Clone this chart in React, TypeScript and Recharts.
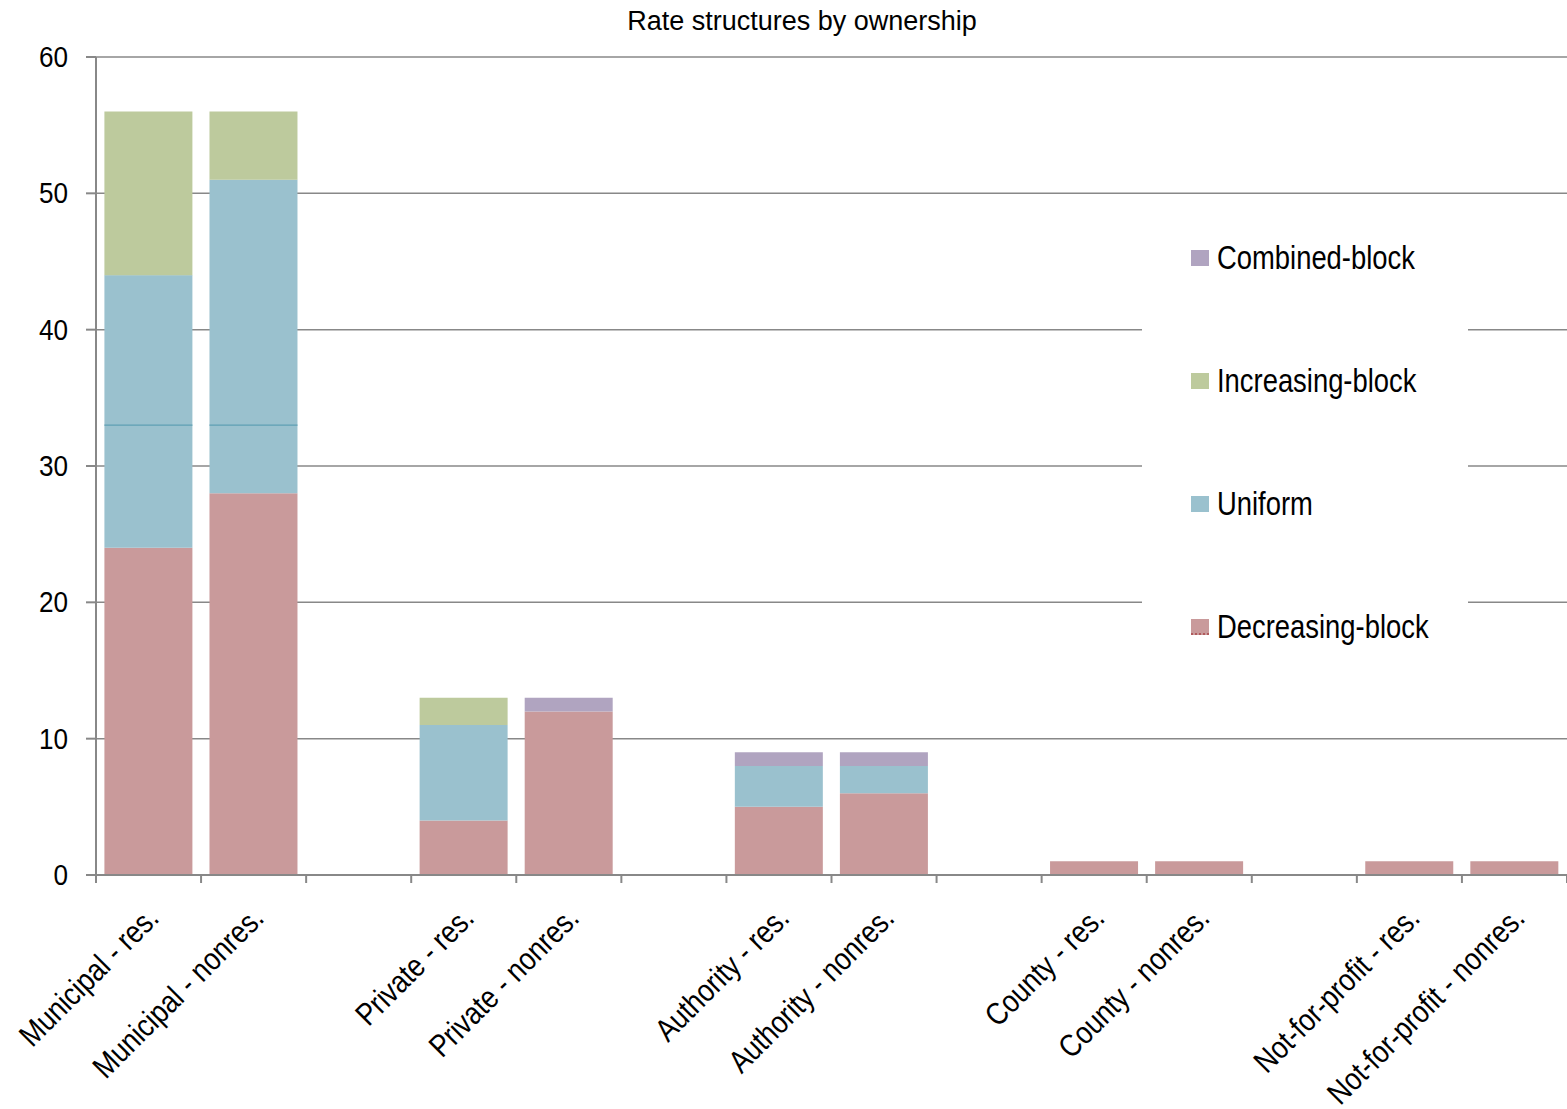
import React from "react";
import {
  BarChart,
  Bar,
  XAxis,
  YAxis,
  CartesianGrid,
  Legend,
} from "recharts";

const FONT = "'Liberation Sans', Arial, sans-serif";
const NARROW = 0.83;

const categories = [
  "Municipal - res.",
  "Municipal - nonres.",
  "",
  "Private - res.",
  "Private - nonres.",
  "",
  "Authority - res.",
  "Authority - nonres.",
  "",
  "County - res.",
  "County - nonres.",
  "",
  "Not-for-profit - res.",
  "Not-for-profit - nonres.",
];

const decreasing = [24, 28, 0, 4, 12, 0, 5, 6, 0, 1, 1, 0, 1, 1];
// uniform is drawn in two pieces, the original has a thin seam at 33
const uniformLower = [9, 5, 0, 7, 0, 0, 3, 2, 0, 0, 0, 0, 0, 0];
const uniformUpper = [11, 18, 0, 0, 0, 0, 0, 0, 0, 0, 0, 0, 0, 0];
const increasing = [12, 5, 0, 2, 0, 0, 0, 0, 0, 0, 0, 0, 0, 0];
const combined = [0, 0, 0, 0, 1, 0, 1, 1, 0, 0, 0, 0, 0, 0];

const yTicks = [0, 10, 20, 30, 40, 50, 60];

const COLORS = {
  decreasing: "#c99a9b",
  uniform: "#9ac1ce",
  increasing: "#bdca9d",
  combined: "#b0a4c0",
};

const legendItems = [
  { label: "Combined-block", color: COLORS.combined },
  { label: "Increasing-block", color: COLORS.increasing },
  { label: "Uniform", color: COLORS.uniform },
  { label: "Decreasing-block", color: COLORS.decreasing },
];

const data = categories.map((name, i) => ({
  name,
  decreasing: decreasing[i],
  uniformLower: uniformLower[i],
  uniformUpper: uniformUpper[i],
  increasing: increasing[i],
  combined: combined[i],
}));

const WIDTH = 1567;
const HEIGHT = 1109;
const PLOT_LEFT = 96;
const BAND = (WIDTH - PLOT_LEFT) / categories.length;

function XTick(props: any) {
  const { x, y, payload, index } = props;
  const label = payload.value as string;
  const left = x - BAND / 2;
  const ax = x + 12;
  const ay = y + 45;
  return (
    <g>
      <line x1={left} y1={y} x2={left} y2={y + 8} stroke="#888" strokeWidth={2} />
      {index === categories.length - 1 && (
        <line x1={x + BAND / 2} y1={y} x2={x + BAND / 2} y2={y + 8} stroke="#888" strokeWidth={2} />
      )}
      {label && (
        <text
          x={0}
          y={0}
          transform={`translate(${ax},${ay}) rotate(-45) scale(0.85,1)`}
          textAnchor="end"
          fontFamily={FONT}
          fontSize={31.5}
          fill="#000"
        >
          {label}
        </text>
      )}
    </g>
  );
}

function YTick(props: any) {
  const { x, y, payload } = props;
  return (
    <text
      x={0}
      y={0}
      transform={`translate(${x},${y}) scale(0.9,1)`}
      textAnchor="end"
      dominantBaseline="central"
      fontFamily={FONT}
      fontSize={29}
      fill="#000"
    >
      {payload.value}
    </text>
  );
}

function SeamShape(props: any) {
  const { x, y, width, height, fill } = props;
  if (!height || height <= 0) return null;
  return (
    <g>
      <rect x={x} y={y} width={width} height={height} fill={fill} />
      <line x1={x} y1={y + height} x2={x + width} y2={y + height} stroke="#5e9fb3" strokeWidth={1.2} />
    </g>
  );
}

function LegendBox() {
  return (
    <div style={{ fontFamily: FONT, fontSize: 33, color: "#000" }}>
      {legendItems.map((item) => (
        <div
          key={item.label}
          style={{ display: "flex", alignItems: "center", height: 123, whiteSpace: "nowrap" }}
        >
          <span
            style={{
              display: "inline-block",
              flexShrink: 0,
              width: 18,
              height: 16,
              boxSizing: "border-box",
              background: item.color,
              borderBottom: item.label === "Decreasing-block" ? "2px dotted #b05a5c" : "none",
              marginLeft: 49,
              marginRight: 8,
            }}
          />
          <span
            style={{
              display: "inline-block",
              flexShrink: 0,
              transform: `scaleX(${NARROW})`,
              transformOrigin: "left center",
            }}
          >
            {item.label}
          </span>
        </div>
      ))}
    </div>
  );
}

export default function App() {
  return (
    <div style={{ position: "absolute", left: 0, top: 0, width: WIDTH, height: HEIGHT, background: "#fff" }}>
      <div
        style={{
          position: "absolute",
          left: 0,
          top: 5,
          width: 1604,
          textAlign: "center",
          fontFamily: FONT,
          fontSize: 27,
          lineHeight: "32px",
          color: "#000",
          zIndex: 2,
        }}
      >
        Rate structures by ownership
      </div>
      <BarChart
        width={WIDTH}
        height={HEIGHT}
        data={data}
        margin={{ top: 57, right: 0, bottom: 0, left: 0 }}
        barCategoryGap="8%"
      >
        <CartesianGrid vertical={false} stroke="#888" strokeWidth={1.5} />
        <XAxis
          dataKey="name"
          interval={0}
          height={234}
          tickSize={0}
          tickMargin={0}
          tickLine={false}
          axisLine={{ stroke: "#888", strokeWidth: 2 }}
          tick={<XTick />}
        />
        <YAxis
          width={96}
          domain={[0, 60]}
          ticks={yTicks}
          interval={0}
          tickSize={10}
          tickMargin={18}
          axisLine={{ stroke: "#888", strokeWidth: 2 }}
          tickLine={{ stroke: "#888", strokeWidth: 2 }}
          tick={<YTick />}
        />
        <Legend
          layout="vertical"
          align="center"
          verticalAlign="middle"
          content={<LegendBox />}
          wrapperStyle={{
            position: "absolute",
            left: 1142,
            top: 196,
            width: 326,
            height: 492,
            background: "#fff",
            overflow: "visible",
          }}
        />
        <Bar dataKey="decreasing" stackId="a" fill={COLORS.decreasing} isAnimationActive={false} />
        <Bar dataKey="uniformLower" stackId="a" fill={COLORS.uniform} isAnimationActive={false} />
        <Bar
          dataKey="uniformUpper"
          stackId="a"
          fill={COLORS.uniform}
          shape={<SeamShape />}
          isAnimationActive={false}
        />
        <Bar dataKey="increasing" stackId="a" fill={COLORS.increasing} isAnimationActive={false} />
        <Bar dataKey="combined" stackId="a" fill={COLORS.combined} isAnimationActive={false} />
      </BarChart>
    </div>
  );
}
